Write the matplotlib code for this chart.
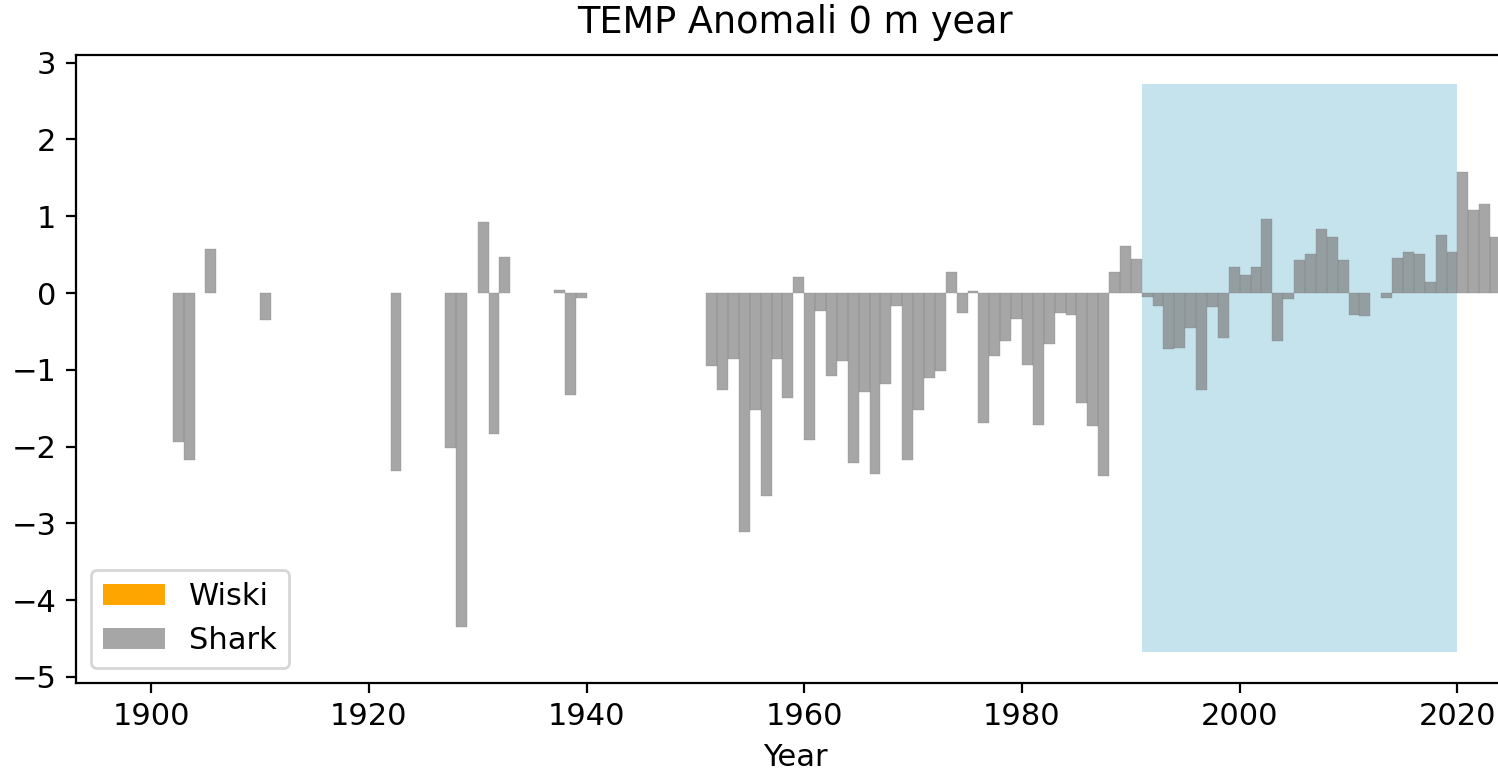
import numpy as np
import matplotlib
matplotlib.use("Agg")
import matplotlib.pyplot as plt
import matplotlib.patches as mpatches

# Shark temperaturanomali (0 m), per år
shark_years = [1902, 1903, 1905, 1910, 1922, 1927, 1928, 1930, 1931, 1932,
               1937, 1938, 1939,
               1951, 1952, 1953, 1954, 1955, 1956, 1957, 1958, 1959, 1960,
               1961, 1962, 1963, 1964, 1965, 1966, 1967, 1968, 1969, 1970,
               1971, 1972, 1973, 1974, 1975, 1976, 1977, 1978, 1979, 1980,
               1981, 1982, 1983, 1984, 1985, 1986, 1987, 1988, 1989, 1990,
               1991, 1992, 1993, 1994, 1995, 1996, 1997, 1998, 1999, 2000,
               2001, 2002, 2003, 2004, 2005, 2006, 2007, 2008, 2009, 2010,
               2011, 2013, 2014, 2015, 2016, 2017, 2018, 2019, 2020,
               2021, 2022, 2023]
shark_values = [-1.94, -2.17, 0.57, -0.35, -2.32, -2.02, -4.35, 0.93, -1.84, 0.47,
                0.04, -1.33, -0.06,
                -0.95, -1.26, -0.86, -3.11, -1.52, -2.65, -0.86, -1.37, 0.21, -1.92,
                -0.24, -1.08, -0.89, -2.22, -1.29, -2.36, -1.18, -0.17, -2.18, -1.53,
                -1.11, -1.02, 0.27, -0.26, 0.02, -1.69, -0.82, -0.63, -0.34, -0.94,
                -1.72, -0.67, -0.26, -0.29, -1.43, -1.73, -2.38, 0.27, 0.61, 0.44,
                -0.05, -0.17, -0.73, -0.72, -0.46, -1.26, -0.18, -0.58, 0.34, 0.23,
                0.34, 0.97, -0.63, -0.08, 0.43, 0.51, 0.83, 0.73, 0.43, -0.28,
                -0.30, -0.07, 0.46, 0.54, 0.51, 0.14, 0.76, 0.54, 1.57,
                1.08, 1.16, 0.73]

# Wiski har inga värden i figuren
wiski_years = []
wiski_values = []

# referensperiod
ref_start = 1991
ref_end = 2020
span_low = -4.68
span_high = 2.72

plt.rcParams["font.size"] = 11

fig = plt.figure(figsize=(7.49, 3.87), dpi=200)
ax = fig.add_axes([0.0507, 0.1176, 0.96, 0.8113])

ax.fill_between([ref_start, ref_end], span_low, span_high,
                color="lightblue", alpha=0.7, linewidth=0)
ax.bar(wiski_years, wiski_values, width=1, align="edge", color="orange")
ax.bar(shark_years, shark_values, width=1, align="edge", color="gray", alpha=0.7,
       edgecolor="gray", linewidth=0.15)

ax.set_xlim(1893.1, 2025.2)
ax.set_ylim(-5.08, 3.10)
ax.set_yticks(np.arange(-5, 4, 1))
ax.set_xticks(np.arange(1900, 2021, 20))
ax.set_xlabel("Year")
ax.set_title("TEMP Anomali 0 m year", pad=8)

handles = [mpatches.Patch(facecolor="orange", linewidth=0, label="Wiski"),
           mpatches.Patch(facecolor="gray", alpha=0.7, linewidth=0, label="Shark")]
ax.legend(handles=handles, loc="lower left")

fig.savefig("out.png", dpi=200)
